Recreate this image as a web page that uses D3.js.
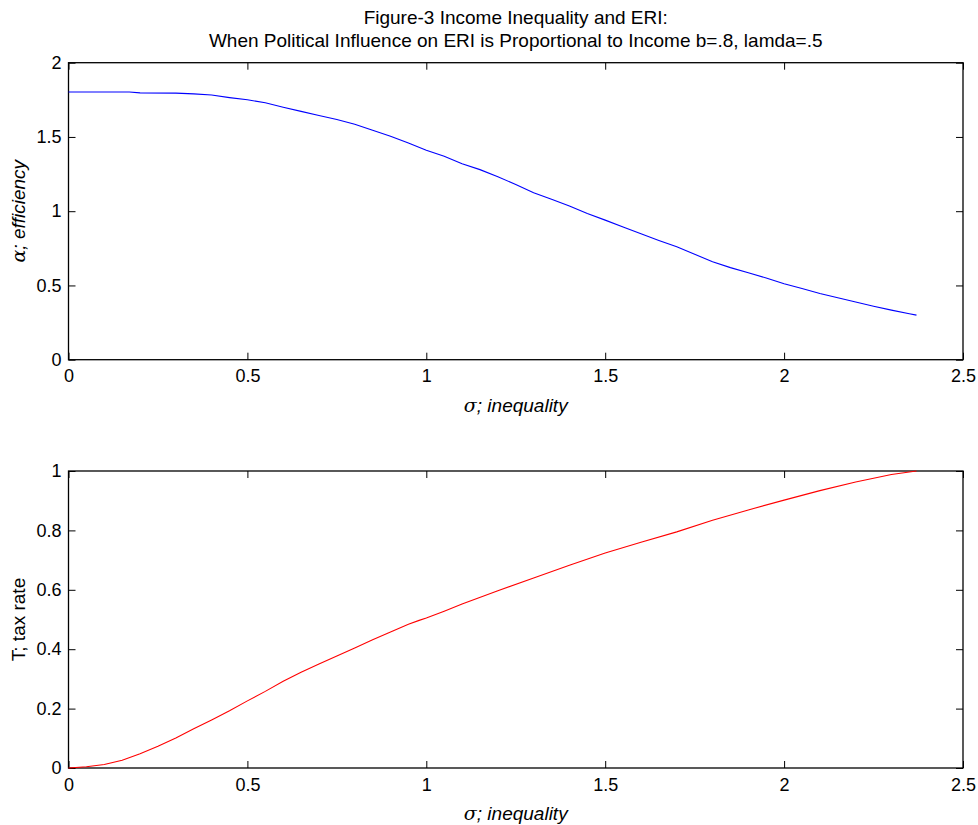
<!DOCTYPE html>
<html>
<head>
<meta charset="utf-8">
<script src="https://cdn.jsdelivr.net/npm/d3@7"></script>
<style>
  body { margin: 0; background: #fff; }
  svg text { font-family: "Liberation Sans", Arial, sans-serif; fill: #000; }
</style>
</head>
<body>
<svg id="chart" width="978" height="825"></svg>
<script>
// sigma (inequality) vs alpha (efficiency)
var sigmaTop = [0, 0.1, 0.17, 0.2, 0.3, 0.35, 0.4, 0.45, 0.5, 0.55, 0.6, 0.65, 0.7, 0.75, 0.8, 0.85, 0.9, 0.95,
  1.0, 1.05, 1.1, 1.15, 1.2, 1.25, 1.3, 1.35, 1.4, 1.45, 1.5, 1.55, 1.6, 1.65, 1.7, 1.75, 1.8, 1.85, 1.9, 1.95,
  2.0, 2.05, 2.1, 2.15, 2.2, 2.25, 2.3, 2.35, 2.37];
var alpha = [1.803, 1.803, 1.803, 1.797, 1.795, 1.79, 1.782, 1.765, 1.75, 1.73, 1.70, 1.672, 1.645, 1.618, 1.585, 1.545, 1.505, 1.46,
  1.41, 1.37, 1.32, 1.28, 1.232, 1.18, 1.124, 1.08, 1.035, 0.985, 0.94, 0.893, 0.848, 0.803, 0.76, 0.71, 0.66, 0.62, 0.585, 0.55,
  0.512, 0.48, 0.446, 0.417, 0.388, 0.36, 0.334, 0.31, 0.30];

// sigma vs T (tax rate), bottom panel
var sigmaBot = [0, 0.05, 0.1, 0.15, 0.2, 0.25, 0.3, 0.35, 0.4, 0.45, 0.5, 0.55, 0.6, 0.65, 0.7, 0.75, 0.8, 0.85, 0.9, 0.95,
  0.98, 1.0, 1.05, 1.1, 1.2, 1.3, 1.4, 1.5, 1.6, 1.7, 1.8, 1.9, 2.0, 2.1, 2.2, 2.3, 2.37];
var taxRate = [0, 0.004, 0.012, 0.026, 0.048, 0.073, 0.101, 0.132, 0.162, 0.193, 0.226, 0.258, 0.292, 0.322, 0.350, 0.377, 0.404, 0.432, 0.458, 0.484,
  0.497, 0.505, 0.528, 0.552, 0.597, 0.640, 0.683, 0.724, 0.760, 0.795, 0.834, 0.869, 0.902, 0.934, 0.963, 0.988, 1.0];

var xTicks = [0, 0.5, 1, 1.5, 2, 2.5];
var yTicksTop = [0, 0.5, 1, 1.5, 2];
var yTicksBot = [0, 0.2, 0.4, 0.6, 0.8, 1];

var svg = d3.select("#chart");
var left = 68.5, right = 963;
var fs = 18;

svg.append("text").attr("x", (left + right) / 2).attr("y", 24)
  .attr("text-anchor", "middle").style("font-size", "19px")
  .text("Figure-3 Income Inequality and ERI:");
svg.append("text").attr("x", (left + right) / 2).attr("y", 47)
  .attr("text-anchor", "middle").style("font-size", "19px")
  .text("When Political Influence on ERI is Proportional to Income b=.8, lamda=.5");

function panel(top, bottom, xs, ys, yDomain, yTicks, color, yLabel, yItalic) {
  var x = d3.scaleLinear().domain([0, 2.5]).range([left, right]);
  var y = d3.scaleLinear().domain(yDomain).range([bottom, top]);
  var g = svg.append("g");
  var tl = 7;

  // inward ticks on all four sides, MATLAB style
  g.append("g").attr("transform", "translate(0," + bottom + ")")
    .call(d3.axisBottom(x).tickValues(xTicks).tickSize(-tl).tickPadding(10).tickFormat(d3.format("")))
    .call(function(a) { a.select(".domain").remove(); });
  g.append("g").attr("transform", "translate(0," + top + ")")
    .call(d3.axisTop(x).tickValues(xTicks).tickSize(-tl).tickFormat(""))
    .call(function(a) { a.select(".domain").remove(); });
  g.append("g").attr("transform", "translate(" + left + ",0)")
    .call(d3.axisLeft(y).tickValues(yTicks).tickSize(-tl).tickPadding(7).tickFormat(d3.format("")))
    .call(function(a) { a.select(".domain").remove(); });
  g.append("g").attr("transform", "translate(" + right + ",0)")
    .call(d3.axisRight(y).tickValues(yTicks).tickSize(-tl).tickFormat(""))
    .call(function(a) { a.select(".domain").remove(); });

  g.selectAll(".tick text").style("font-size", fs + "px").style("font-family", "Liberation Sans, Arial, sans-serif");
  g.selectAll(".tick line").attr("stroke", "#000");

  g.append("rect").attr("x", left).attr("y", top)
    .attr("width", right - left).attr("height", bottom - top)
    .attr("fill", "none").attr("stroke", "#000").attr("stroke-width", 1.3);

  var line = d3.line().x(function(d) { return x(d[0]); }).y(function(d) { return y(d[1]); });
  g.append("path").datum(d3.zip(xs, ys))
    .attr("d", line).attr("fill", "none").attr("stroke", color).attr("stroke-width", 1.1);

  var xl = g.append("text").attr("x", (left + right) / 2).attr("y", bottom + 52)
    .attr("text-anchor", "middle").style("font-size", "19px").style("font-style", "italic");
  xl.append("tspan").style("font-family", "DejaVu Serif, serif").text("σ");
  xl.append("tspan").text("; inequality");

  var yl = g.append("text")
    .attr("transform", "translate(" + 25 + "," + ((top + bottom) / 2) + ") rotate(-90)")
    .attr("text-anchor", "middle").style("font-size", "19px");
  if (yItalic) {
    yl.style("font-style", "italic");
    yl.append("tspan").style("font-family", "DejaVu Serif, serif").text("α");
    yl.append("tspan").text("; efficiency");
  } else {
    yl.text(yLabel);
  }
}

panel(62.7, 359.7, sigmaTop, alpha, [0, 2], yTicksTop, "#0000ff", "", true);
panel(471, 768, sigmaBot, taxRate, [0, 1], yTicksBot, "#ff0000", "T; tax rate", false);
</script>
</body>
</html>
